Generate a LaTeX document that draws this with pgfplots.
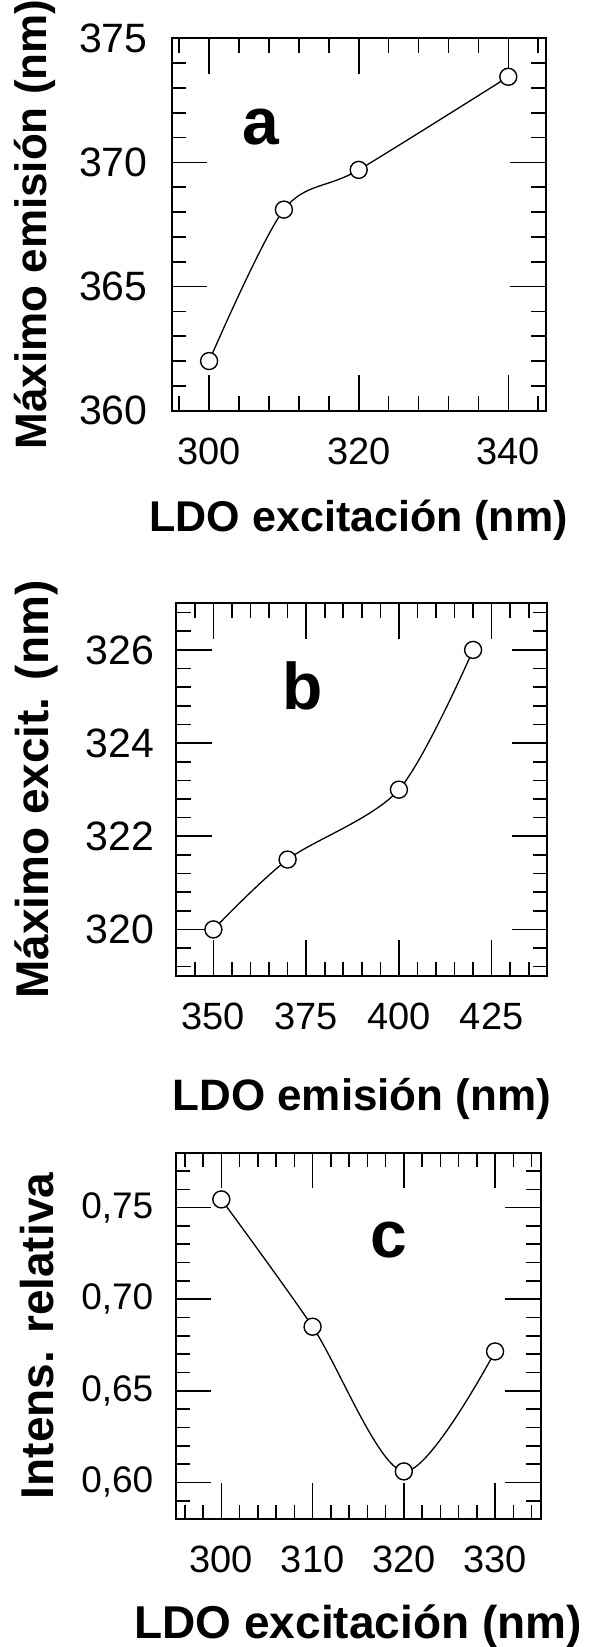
\documentclass[border=0pt]{standalone}
\usepackage{fontspec}
\setmainfont{Liberation Sans}
\usepackage{pgfplots}
\pgfplotsset{compat=1.18}
\pgfplotsset{
  panel/.style={
    scale only axis,
    anchor=south west,
    tick align=inside,
    tick pos=both,
    axis line style={line width=1.1pt, black},
    major tick length=17.85pt,
    minor tick length=7.25pt,
    tick style={line width=0.8pt, black},
    xticklabel style={font=\fontsize{19}{21}\selectfont, inner sep=0pt, anchor=north, yshift=-13.3pt},
  },
  curve/.style={smooth, black, line width=0.65pt, mark=*, mark size=4.25pt,
    mark options={fill=white, draw=black, line width=0.7pt, solid}},
}
\newcommand{\lbl}[1]{\fontsize{#1}{#1}\bfseries\selectfont}
\begin{document}
\begin{tikzpicture}
% ---------------- panel a ----------------
\begin{axis}[panel,
  at={(85.85pt,-205.35pt)}, width=187pt, height=186.2pt,
  xmin=295, xmax=345, ymin=360, ymax=375,
  xtick={300,320,340}, xticklabels={300,320,340},
  minor xtick={296,304,308,312,316,324,328,332,336,344},
  ytick={360,365,370,375}, yticklabels={360,365,370,375},
  minor ytick={361,362,363,364,366,367,368,369,371,372,373,374},
  yticklabel style={font=\fontsize{20.5}{22}\selectfont, inner sep=0pt, anchor=east, xshift=-11.85pt},
]
\addplot[curve] coordinates {(300,362.0) (310,368.1) (320,369.7) (340,373.45)};
\node[font=\lbl{33}, inner sep=0pt] at (axis cs:306.9,371.44) {a};
\end{axis}
\node[rotate=90, anchor=base, font=\lbl{22}, inner sep=0pt] at (23pt,-112.25pt) {Máximo emisión (nm)};
\node[anchor=base, font=\lbl{21.5}, inner sep=0pt] at (179.35pt,-265.85pt) {LDO excitación (nm)};
% ---------------- panel b ----------------
\begin{axis}[panel,
  at={(88.15pt,-488pt)}, width=185.5pt, height=186.35pt,
  xmin=340, xmax=440, ymin=319, ymax=327,
  xtick={350,375,400,425}, xticklabels={350,375,400,425},
  minor xtick={345,355,360,365,370,380,385,390,395,405,410,415,420,430,435},
  ytick={320,322,324,326}, yticklabels={320,322,324,326},
  minor ytick={319.2,319.6,320.4,320.8,321.2,321.6,322.4,322.8,323.2,323.6,324.4,324.8,325.2,325.6,326.4,326.8},
  yticklabel style={font=\fontsize{20.5}{22}\selectfont, inner sep=0pt, anchor=east, xshift=-11pt},
]
\addplot[curve] coordinates {(350,320.0) (370,321.5) (400,323.0) (420,326.0)};
\node[font=\lbl{33}, inner sep=0pt] at (axis cs:374.1,325.22) {b};
\end{axis}
\node[rotate=90, anchor=base, font=\lbl{23}, inner sep=0pt] at (24pt,-394.85pt) {Máximo excit. (nm)};
\node[anchor=base, font=\lbl{22}, inner sep=0pt] at (180.9pt,-555pt) {LDO emisión (nm)};
% ---------------- panel c ----------------
\begin{axis}[panel,
  at={(87.85pt,-759.5pt)}, width=182.5pt, height=183.15pt,
  xmin=295, xmax=335, ymin=0.58, ymax=0.78,
  xtick={300,310,320,330}, xticklabels={300,310,320,330},
  minor xtick={296,298,302,304,306,308,312,314,316,318,322,324,326,328,332,334},
  ytick={0.60,0.65,0.70,0.75}, yticklabels={{0,60},{0,65},{0,70},{0,75}},
  minor ytick={0.59,0.61,0.62,0.63,0.64,0.66,0.67,0.68,0.69,0.71,0.72,0.73,0.74,0.76,0.77},
  yticklabel style={font=\fontsize{18.5}{20}\selectfont, inner sep=0pt, anchor=east, xshift=-11pt},
]
\addplot[curve] coordinates {(300,0.7545) (310,0.685) (320,0.606) (330,0.6715)};
\node[font=\lbl{33}, inner sep=0pt] at (axis cs:318.4,0.7324) {c};
\end{axis}
\node[rotate=90, anchor=base, font=\lbl{23}, inner sep=0pt] at (26.65pt,-667.95pt) {Intens. relativa};
\node[anchor=base, font=\lbl{23}, inner sep=0pt] at (179.1pt,-819pt) {LDO excitación (nm)};
\pgfresetboundingbox
\useasboundingbox (0pt,0pt) rectangle (298pt,-823.5pt);
\end{tikzpicture}
\end{document}
